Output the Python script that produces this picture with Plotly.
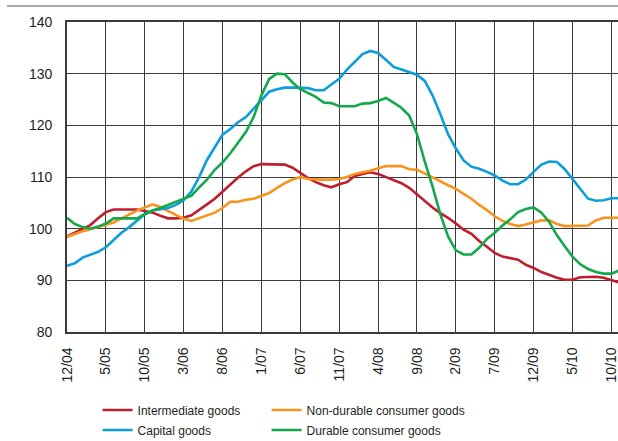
import plotly.graph_objects as go

tick_labels = ["12/04", "5/05", "10/05", "3/06", "8/06", "1/07", "6/07", "11/07",
               "4/08", "9/08", "2/09", "7/09", "12/09", "5/10", "10/10"]
tick_months = [0, 5, 10, 15, 20, 25, 30, 35, 40, 45, 50, 55, 60, 65, 70]

months = list(range(72))

intermediate = [98.5, 99.2, 99.9, 100.7, 102.0, 103.2, 103.7, 103.7, 103.7, 103.7,
                103.4, 103.1, 102.5, 102.0, 102.0, 102.1, 102.6, 103.6, 104.7, 105.8,
                107.2, 108.6, 109.9, 111.1, 112.1, 112.5, 112.5, 112.5, 112.4, 111.8,
                110.8, 109.8, 109.0, 108.4, 108.0, 108.6, 109.0, 110.2, 110.6, 110.9,
                110.6, 110.0, 109.4, 108.8, 107.9, 106.6, 105.3, 104.1, 103.0, 102.1,
                101.0, 99.8, 99.0, 97.6, 96.5, 95.3, 94.6, 94.3, 94.0, 93.0,
                92.4, 91.6, 91.0, 90.5, 90.1, 90.1, 90.6, 90.7, 90.7, 90.5,
                90.1, 89.6]

non_durable = [98.4, 99.0, 99.5, 99.9, 100.3, 100.8, 101.2, 102.0, 102.8, 103.5,
               104.1, 104.7, 104.2, 103.4, 102.6, 101.9, 101.5, 102.0, 102.5, 103.1,
               104.0, 105.2, 105.2, 105.6, 105.8, 106.3, 106.9, 107.9, 108.8, 109.5,
               110.0, 109.6, 109.5, 109.5, 109.5, 109.6, 110.0, 110.6, 110.9, 111.2,
               111.7, 112.1, 112.1, 112.1, 111.5, 111.4, 110.7, 109.9, 109.2, 108.4,
               107.7, 106.8, 105.8, 104.6, 103.6, 102.4, 101.5, 100.9, 100.5, 100.8,
               101.2, 101.6, 101.6, 100.9, 100.5, 100.5, 100.5, 100.6, 101.6, 102.1,
               102.1, 102.1]

capital = [92.8, 93.3, 94.4, 94.9, 95.5, 96.4, 97.8, 99.2, 100.3, 101.6,
           102.8, 103.5, 103.7, 104.0, 104.6, 105.5, 107.2, 110.0, 113.3, 115.8,
           118.2, 119.3, 120.6, 121.6, 123.3, 125.0, 126.5, 127.0, 127.3, 127.3,
           127.3, 127.2, 126.8, 126.8, 127.9, 129.0, 130.8, 132.4, 133.8, 134.4,
           134.0, 132.7, 131.3, 130.8, 130.3, 129.8, 128.6, 125.8, 122.2, 118.3,
           115.5, 113.2, 112.0, 111.6, 111.0, 110.3, 109.3, 108.6, 108.6, 109.5,
           111.0, 112.4, 113.0, 112.9, 111.5, 109.6, 107.5, 105.8, 105.4, 105.5,
           105.9, 105.9]

durable = [102.1, 100.9, 100.3, 100.0, 100.4, 101.0, 102.0, 102.0, 102.0, 102.0,
           102.8, 103.5, 104.0, 104.6, 105.2, 105.7, 106.4, 108.0, 109.5, 111.4,
           112.8, 114.6, 116.6, 118.7, 121.6, 125.8, 129.0, 130.0, 129.9, 128.3,
           127.0, 126.2, 125.5, 124.4, 124.3, 123.7, 123.7, 123.7, 124.2, 124.3,
           124.7, 125.3, 124.4, 123.4, 121.9, 118.3, 113.0, 108.2, 102.8, 98.5,
           95.8, 95.0, 95.0, 96.3, 98.0, 99.2, 100.6, 101.8, 103.2, 103.8,
           104.1, 103.1, 101.3, 98.7, 96.6, 94.6, 93.1, 92.2, 91.6, 91.3,
           91.3, 91.9]

series = [
    ("Intermediate goods", intermediate, "#be1e2d", "legend"),
    ("Non-durable consumer goods", non_durable, "#f7941d", "legend2"),
    ("Capital goods", capital, "#0c9ddb", "legend3"),
    ("Durable consumer goods", durable, "#13a84b", "legend4"),
]

fig = go.Figure()
for name, vals, color, lg in series:
    fig.add_trace(go.Scatter(x=months, y=vals, mode="lines", name=name,
                             line=dict(color=color, width=2.6),
                             legend=lg, showlegend=True))

grid_col = "#3a3a3a"
tick_font = dict(family="Liberation Sans, Arial, sans-serif", size=14, color="#231f20")
leg_font = dict(family="Liberation Sans, Arial, sans-serif", size=12, color="#231f20")

def leg(x, y):
    return dict(x=x, y=y, xanchor="left", yanchor="middle", orientation="v",
                font=leg_font, bgcolor="rgba(0,0,0,0)", borderwidth=0)

fig.update_layout(
    width=618, height=441,
    showlegend=True,
    margin=dict(l=67, r=0, t=22, b=109, autoexpand=False),
    paper_bgcolor="white", plot_bgcolor="white",
    xaxis=dict(range=[0, 70.85], tickmode="array", tickvals=tick_months,
               ticktext=tick_labels, tickangle=-90, showgrid=True,
               gridcolor=grid_col, gridwidth=1.4, showline=True, linecolor=grid_col,
               linewidth=1.6, mirror=True, ticks="", ticklabelstandoff=8,
               ticklabeloverflow="allow",
               tickfont=tick_font, zeroline=False, fixedrange=True),
    yaxis=dict(range=[80, 140], tickmode="array", tickvals=[80, 90, 100, 110, 120, 130, 140],
               showgrid=True, gridcolor=grid_col, gridwidth=1.4, showline=True,
               linecolor=grid_col, linewidth=1.6, ticks="", ticklabelstandoff=10,
               tickfont=tick_font, zeroline=False, fixedrange=True),
    legend=leg(0.0555, -0.2516),
    legend2=leg(0.3622, -0.2516),
    legend3=leg(0.0555, -0.3161),
    legend4=leg(0.3622, -0.3161),
    shapes=[dict(type="line", xref="paper", yref="paper", x0=-0.109, x1=1.0,
                 y0=1.0516, y1=1.0516, line=dict(color="#8c8c8c", width=1.6))],
)

fig.write_html("out.html", config={"displayModeBar": False},
               post_script="document.body.style.margin='0';")
